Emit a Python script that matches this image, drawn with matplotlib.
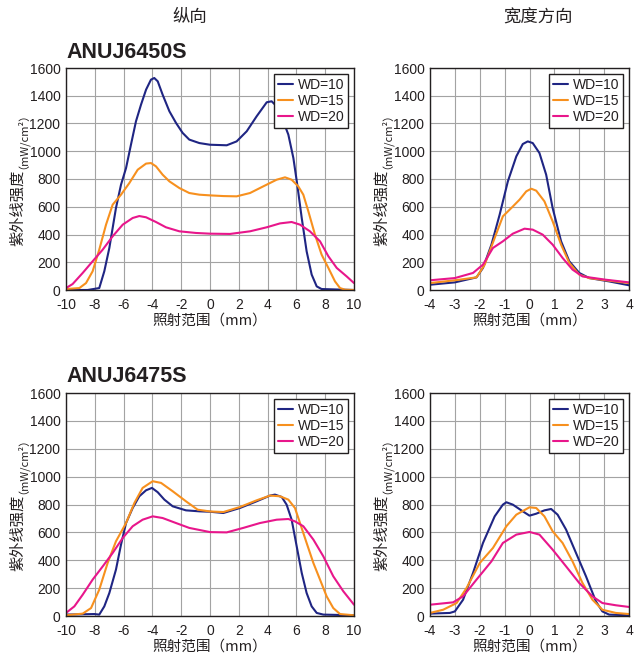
import matplotlib
matplotlib.use("Agg")
import matplotlib.pyplot as plt

plt.rcParams['font.family'] = ['Liberation Sans', 'Noto Sans CJK SC', 'DejaVu Sans']
plt.rcParams['axes.unicode_minus'] = False

series_names = ["WD=10", "WD=15", "WD=20"]
colors = ["#1f2583", "#f7901e", "#e8168b"]

# ANUJ6450S longitudinal
a_long_x10 = [-10, -8.5, -7.69, -7.34, -6.99, -6.53, -6.18, -5.83, -5.49, -5.14, -4.79, -4.44, -4.1, -3.87, -3.63, -3.29, -2.82, -2.36, -1.9, -1.44, -0.74, 0,
              1.16, 1.85, 2.55, 3.24, 3.94, 4.28, 4.63, 5.0, 5.44, 5.79, 6.06, 6.37, 6.71, 7.06, 7.41, 7.75, 10]
a_long_y10 = [0, 0, 14, 135, 303, 591, 759, 879, 1047, 1216, 1336, 1444, 1516, 1528, 1504, 1408, 1288, 1204, 1132, 1084, 1059, 1047,
              1043, 1071, 1144, 1252, 1353, 1360, 1324, 1240, 1120, 951, 759, 519, 279, 111, 26, 7, 0]
a_long_x15 = [-10, -9.07, -8.61, -8.15, -7.69, -7.22, -6.76, -6.18, -5.6, -5.02, -4.44, -4.1, -3.75, -3.29, -2.82, -2.13, -1.44, -0.74, 0,
              0.93, 1.85, 2.78, 3.7, 4.63, 5.21, 5.67, 6.13, 6.48, 6.83, 7.29, 7.75, 8.22, 8.68, 9.03, 9.38, 10]
a_long_y15 = [7, 14, 50, 135, 291, 471, 615, 687, 771, 867, 911, 915, 891, 831, 783, 735, 699, 687, 682,
              677, 675, 699, 747, 795, 812, 795, 747, 687, 567, 399, 255, 159, 62, 14, 2, 0]
a_long_x20 = [-10, -9.54, -8.84, -8.15, -7.45, -6.76, -6.06, -5.37, -4.91, -4.44, -3.75, -3.06, -2.13, -0.97, 0,
              1.39, 2.78, 3.94, 4.86, 5.67, 6.25, 6.94, 7.64, 8.22, 8.8, 9.49, 10]
a_long_y20 = [14, 43, 123, 207, 291, 387, 471, 519, 533, 524, 490, 452, 423, 411, 406,
              404, 423, 452, 480, 490, 471, 423, 351, 243, 159, 98, 50]

# ANUJ6450S width direction
a_wid_x10 = [-4, -3, -2.13, -1.87, -1.53, -1.2, -0.87, -0.53, -0.27, -0.07, 0.13, 0.4, 0.67, 0.93, 1.27, 1.6, 2.0, 2.4, 3.2, 4]
a_wid_y10 = [38, 55, 91, 159, 327, 543, 783, 963, 1052, 1071, 1059, 987, 831, 591, 351, 207, 123, 86, 62, 34]
a_wid_x15 = [-4, -3, -2.13, -1.8, -1.4, -1.07, -0.73, -0.4, -0.13, 0.07, 0.27, 0.6, 0.93, 1.27, 1.6, 2.0, 2.4, 3.2, 4]
a_wid_y15 = [50, 70, 91, 183, 375, 531, 591, 651, 711, 730, 716, 639, 495, 327, 195, 111, 86, 67, 50]
a_wid_x20 = [-4, -3, -2.27, -1.87, -1.47, -1.07, -0.67, -0.2, 0.13, 0.53, 0.93, 1.33, 1.73, 2.13, 3.07, 4]
a_wid_y20 = [70, 86, 123, 183, 303, 351, 406, 442, 435, 399, 327, 231, 147, 98, 74, 55]

# ANUJ6475S longitudinal
b_long_x10 = [-10, -8.03, -7.69, -7.34, -6.99, -6.53, -6.18, -5.83, -5.37, -4.91, -4.44, -4.03, -3.63, -3.17, -2.59, -1.67, -0.74, 0,
              0.93, 2.08, 3.24, 4.17, 4.51, 4.98, 5.32, 5.67, 6.02, 6.37, 6.71, 7.06, 7.41, 7.87, 10]
b_long_y10 = [10, 14, 10, 69, 165, 333, 512, 667, 775, 859, 902, 919, 888, 835, 787, 758, 751, 748,
              739, 775, 823, 864, 871, 854, 799, 691, 500, 309, 165, 69, 22, 10, 5]
b_long_x15 = [-10, -8.84, -8.26, -7.69, -7.11, -6.53, -5.83, -5.25, -4.68, -3.98, -3.4, -2.59, -1.67, -0.86, 0,
              0.93, 2.08, 3.24, 4.17, 4.86, 5.44, 5.9, 6.25, 6.71, 7.18, 7.64, 8.1, 8.56, 9.03, 10]
b_long_y15 = [5, 17, 57, 189, 380, 536, 667, 811, 919, 967, 955, 895, 823, 763, 750,
              746, 782, 830, 864, 859, 835, 775, 667, 524, 380, 261, 141, 57, 14, 5]
b_long_x20 = [-10, -9.42, -8.84, -8.15, -7.45, -6.76, -6.06, -5.37, -4.68, -3.98, -3.29, -2.36, -1.44, 0,
              1.16, 2.31, 3.47, 4.63, 5.44, 5.9, 6.48, 7.18, 7.87, 8.56, 9.26, 10]
b_long_y20 = [22, 69, 153, 261, 356, 452, 560, 644, 691, 715, 703, 667, 632, 602,
              600, 632, 667, 691, 696, 679, 644, 548, 428, 285, 177, 81]

# ANUJ6475S width direction
b_wid_x10 = [-4, -3.2, -3, -2.67, -2.27, -1.87, -1.4, -1.07, -0.93, -0.67, -0.27, 0, 0.27, 0.6, 0.87, 1.13, 1.47, 1.87, 2.27, 2.67, 2.93, 3.2, 4]
b_wid_y10 = [17, 22, 33, 117, 309, 524, 715, 799, 816, 799, 751, 720, 734, 758, 768, 727, 620, 452, 285, 105, 33, 10, 5]
b_wid_x15 = [-4, -3.47, -2.93, -2.53, -2.0, -1.47, -0.93, -0.53, 0, 0.27, 0.6, 0.93, 1.33, 1.73, 2.13, 2.53, 2.93, 3.47, 4]
b_wid_y15 = [22, 45, 93, 201, 380, 488, 644, 727, 780, 775, 715, 608, 524, 392, 237, 117, 45, 22, 14]
b_wid_x20 = [-4, -3.07, -2.67, -2.13, -1.53, -1.07, -0.53, 0, 0.4, 0.93, 1.47, 2.0, 2.53, 2.93, 3.47, 4]
b_wid_y20 = [81, 98, 141, 261, 392, 524, 584, 603, 584, 476, 356, 237, 141, 93, 77, 65]

long_ticks = [-10, -8, -6, -4, -2, 0, 2, 4, 6, 8, 10]
wid_ticks = [-4, -3, -2, -1, 0, 1, 2, 3, 4]
y_ticks = [0, 200, 400, 600, 800, 1000, 1200, 1400, 1600]

W, H = 635, 653
fig = plt.figure(figsize=(W / 100, H / 100), dpi=100)
TXT = '#231f20'


def add_ax(x0, y0, x1, y1):
    return fig.add_axes([x0 / W, 1 - y1 / H, (x1 - x0) / W, (y1 - y0) / H])


panels = [
    (add_ax(66, 68, 354, 290), long_ticks,
     [(a_long_x10, a_long_y10), (a_long_x15, a_long_y15), (a_long_x20, a_long_y20)]),
    (add_ax(430, 68, 629, 290), wid_ticks,
     [(a_wid_x10, a_wid_y10), (a_wid_x15, a_wid_y15), (a_wid_x20, a_wid_y20)]),
    (add_ax(66, 393, 354, 616), long_ticks,
     [(b_long_x10, b_long_y10), (b_long_x15, b_long_y15), (b_long_x20, b_long_y20)]),
    (add_ax(430, 393, 629, 616), wid_ticks,
     [(b_wid_x10, b_wid_y10), (b_wid_x15, b_wid_y15), (b_wid_x20, b_wid_y20)]),
]

for ax, xt, data in panels:
    for (xs, ys), c, name in zip(data, colors, series_names):
        ax.plot(xs, ys, color=c, lw=1.5, label=name, solid_joinstyle='round', solid_capstyle='round')
    ax.set_xlim(xt[0], xt[-1])
    ax.set_ylim(0, 1600)
    ax.set_xticks(xt)
    ax.set_yticks(y_ticks)
    ax.tick_params(labelsize=10, length=0, colors=TXT)
    ax.tick_params(axis='x', pad=5.5)
    ax.tick_params(axis='y', pad=4)
    ax.grid(True, color='#a3a3a3', lw=0.8)
    ax.set_axisbelow(True)
    for s in ax.spines.values():
        s.set_color(TXT)
        s.set_linewidth(1.0)
    leg = ax.legend(loc='upper right', fontsize=10, frameon=True, fancybox=False,
                    edgecolor=TXT, framealpha=1, borderpad=0.3,
                    handlelength=1.1, handletextpad=0.3, labelspacing=0.15,
                    borderaxespad=0.4)
    leg.get_frame().set_linewidth(1.0)
    for t in leg.get_texts():
        t.set_color(TXT)
    pos = ax.get_position()
    cx = (pos.x0 + pos.x1) / 2
    fig.text(cx, pos.y0 - 31 / H, "照射范围（mm）", ha='center', va='center',
             fontsize=10.5, family=['Noto Sans CJK SC'], color=TXT)
    ph = pos.y1 - pos.y0
    fig.text(pos.x0 - 48 / W, pos.y0 + 0.2 * ph, "紫外线强度", rotation=90, ha='center', va='bottom',
             fontsize=11, family=['Noto Sans CJK SC'], color=TXT)
    fig.text(pos.x0 - 49 / W, pos.y0 + 0.545 * ph, "（mW/cm²）", rotation=90, ha='center', va='bottom',
             fontsize=8, family=['Noto Sans CJK SC', 'DejaVu Sans'], color=TXT)

fig.text(190 / W, 1 - 17 / H, "纵向", ha='center', va='center', fontsize=12.5,
         family=['Noto Sans CJK SC'], color=TXT)
fig.text(538 / W, 1 - 18 / H, "宽度方向", ha='center', va='center', fontsize=12.5,
         family=['Noto Sans CJK SC'], color=TXT)
fig.text(66 / W, 1 - 52 / H, "ANUJ6450S", ha='left', va='center', fontsize=15.5,
         fontweight='bold', color=TXT)
fig.text(66 / W, 1 - 377 / H, "ANUJ6475S", ha='left', va='center', fontsize=15.5,
         fontweight='bold', color=TXT)

fig.savefig("out.png", dpi=100, facecolor='white')
